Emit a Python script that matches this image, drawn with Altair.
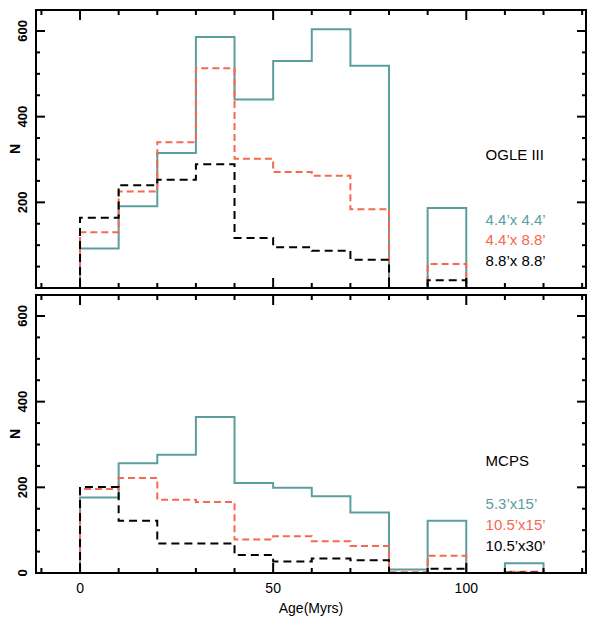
import pandas as pd
import altair as alt

# ---------- data ----------

bin_left = [0, 10, 20, 30, 40, 50, 60, 70, 80, 90, 100, 110, 120]

ogle_44x44 = [92, 191, 315, 586, 440, 530, 604, 519, 0, 187, 0, 0, 0]
ogle_44x88 = [130, 225, 340, 513, 302, 271, 262, 184, 0, 56, 0, 0, 0]
ogle_88x88 = [164, 240, 253, 289, 117, 95, 87, 66, 0, 18, 0, 0, 0]

mcps_53x15 = [176, 256, 276, 364, 210, 199, 179, 141, 8, 122, 0, 23, 0]
mcps_105x15 = [196, 222, 171, 166, 78, 86, 74, 63, 2, 40, 0, 3, 0]
mcps_105x30 = [201, 122, 69, 69, 42, 27, 34, 30, 0, 10, 0, 1, 0]

ogle_names = ["4.4’x 4.4’", "4.4’x 8.8’", "8.8’x 8.8’"]
mcps_names = ["5.3’x15’", "10.5’x15’", "10.5’x30’"]

# where the panel notes sit (data units)
note_x = 105
ogle_title_y = 310
ogle_label_y = [159, 111, 64]
mcps_title_y = 262
mcps_label_y = [161, 113, 62]

x_major = [0, 50, 100]
x_minor = [-10, 10, 20, 30, 40, 60, 70, 80, 90, 110, 120, 130]
y_major = [0, 200, 400, 600]
y_minor = [50, 100, 150, 250, 300, 350, 450, 500, 550]

x_title = "Age(Myrs)"
y_title = "N"

# ---------- styling ----------

FONT = "Liberation Sans"
STYLES = [
    dict(color="#5c9e9e"),
    dict(color="#f8674f", strokeDash=[7, 4]),
    dict(color="#000000", strokeDash=[8, 5]),
]
X_DOMAIN = [-11.4, 131]
Y_DOMAIN = [0, 649]
W, H = 550, 278

XS = alt.Scale(domain=X_DOMAIN, nice=False, zero=False)
YS = alt.Scale(domain=Y_DOMAIN, nice=False)


def X(field="age"):
    return alt.X(f"{field}:Q", scale=XS, axis=None)


def Y(field="n"):
    return alt.Y(f"{field}:Q", scale=YS, axis=None)


def step_frame(values, name):
    xs = [0] + bin_left + [130]
    ys = [0] + values + [values[-1]]
    return pd.DataFrame({"age": xs, "n": ys, "series": name, "idx": range(len(xs))})


def frame_layers(bottom):
    """inward ticks on all four sides plus the tick labels and axis titles"""
    out = []
    for vals, size in [(x_major, 10), (x_minor, 5)]:
        df = pd.DataFrame({"age": vals})
        for y0, y1 in [(0, size), (H, H - size)]:
            out.append(
                alt.Chart(df).mark_rule(color="black", strokeWidth=2)
                .encode(x=X(), y=alt.value(y0), y2=alt.value(y1))
            )
    for vals, size in [(y_major, 9), (y_minor, 4)]:
        df = pd.DataFrame({"n": vals})
        for x0, x1 in [(0, size), (W, W - size)]:
            out.append(
                alt.Chart(df).mark_rule(color="black", strokeWidth=2)
                .encode(y=Y(), x=alt.value(x0), x2=alt.value(x1))
            )

    shown = y_major if bottom else y_major[1:]
    ylab = pd.DataFrame({"n": shown, "label": [str(v) for v in shown]})
    out.append(
        alt.Chart(ylab)
        .mark_text(angle=270, align="center", baseline="bottom", font=FONT,
                   fontSize=13, fontWeight="bold", color="black")
        .encode(y=Y(), x=alt.value(-6), text="label:N")
    )
    out.append(
        alt.Chart(pd.DataFrame({"t": [y_title]}))
        .mark_text(angle=270, align="center", baseline="bottom", font=FONT,
                   fontSize=14, fontWeight="bold", color="black")
        .encode(x=alt.value(-13), y=alt.value(H / 2), text="t:N")
    )
    if bottom:
        xlab = pd.DataFrame({"age": x_major, "label": [str(v) for v in x_major]})
        out.append(
            alt.Chart(xlab)
            .mark_text(align="center", baseline="top", font=FONT, fontSize=14,
                       color="black")
            .encode(x=X(), y=alt.value(H + 9), text="label:N")
        )
        out.append(
            alt.Chart(pd.DataFrame({"t": [x_title]}))
            .mark_text(align="center", baseline="top", font=FONT, fontSize=14,
                       color="black")
            .encode(x=alt.value(W / 2), y=alt.value(H + 29), text="t:N")
        )
    return out


def panel(series, names, title, title_y, label_ys, bottom):
    layers = []
    for i, (vals, name) in enumerate(zip(series, names)):
        layers.append(
            alt.Chart(step_frame(vals, name))
            .mark_line(interpolate="step-after", strokeWidth=2, **STYLES[i])
            .encode(x=X(), y=Y(), order="idx:Q")
        )

    notes = pd.DataFrame({
        "age": [note_x] * 4,
        "n": [title_y] + label_ys,
        "text": [title] + names,
        "key": ["title"] + names,
    })
    layers.append(
        alt.Chart(notes)
        .mark_text(align="left", baseline="middle", font=FONT, fontSize=15)
        .encode(
            x=X(), y=Y(),
            text="text:N",
            color=alt.Color(
                "key:N",
                scale=alt.Scale(domain=["title"] + names,
                                range=["#000000"] + [s["color"] for s in STYLES]),
                legend=None,
            ),
        )
    )

    # black baseline drawn over the empty (zero) bins, like the frame
    base = pd.DataFrame({"age": [X_DOMAIN[0], X_DOMAIN[1]], "n": [0, 0]})
    layers.append(
        alt.Chart(base).mark_line(color="black", strokeWidth=2).encode(x=X(), y=Y())
    )
    layers += frame_layers(bottom)

    return (
        alt.layer(*layers)
        .resolve_scale(color="independent")
        .properties(width=W, height=H)
    )


top = panel([ogle_44x44, ogle_44x88, ogle_88x88], ogle_names, "OGLE III",
            ogle_title_y, ogle_label_y, bottom=False)
bottom = panel([mcps_53x15, mcps_105x15, mcps_105x30], mcps_names, "MCPS",
               mcps_title_y, mcps_label_y, bottom=True)

chart = (
    alt.vconcat(top, bottom, spacing=0)
    .properties(padding=0, background="white")
    .configure_view(stroke="black", strokeWidth=2)
)

chart.save("out.html", embed_options={"renderer": "svg", "actions": False})
